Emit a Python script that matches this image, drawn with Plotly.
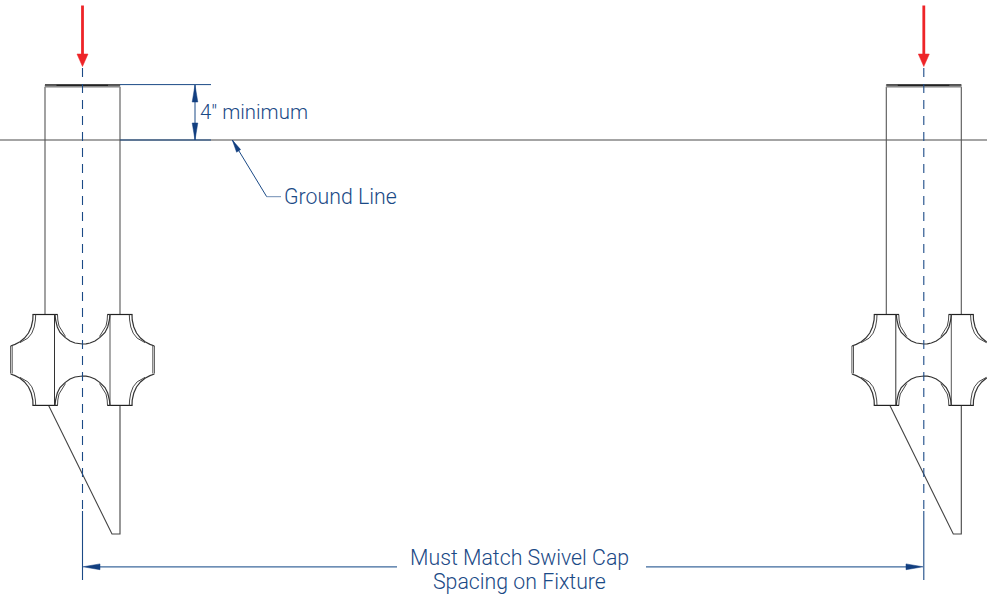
import plotly.graph_objects as go

LEFT_CENTER = 82.5
RIGHT_CENTER = 923.8
STAKE_SHIFT = RIGHT_CENTER - LEFT_CENTER
CROSS_MID_Y = 360.0

INK = "#333333"
BLUE = "#1b4a86"
RED = "#ee2428"

# stake outline, left stake, image pixels
shaft_left_x = [45, 45]
shaft_left_y = [87, 314.5]
shaft_right_x = [120, 120]
shaft_right_y = [87, 314.5]
cap_x = [45, 120, 120, 45, 45]
cap_y = [84.8, 84.8, 87.3, 87.3, 84.8]
cap_dark_x = [56.5, 108]
cap_dark_y = [85.3, 85.3]
spike_x = [48.5, 112, 120, 120]
spike_y = [405.3, 534, 534, 405.3]

# swivel cross
cross_edge_top_x = [32.5, 57.7]
cross_edge_top_y = [314.5, 314.5]
cross_edge2_top_x = [107.3, 132.5]
cross_edge2_top_y = [314.5, 314.5]
cross_edge_bot_x = [32.5, 57.7]
cross_edge_bot_y = [405.4, 405.4]
cross_edge2_bot_x = [107.3, 132.5]
cross_edge2_bot_y = [405.4, 405.4]
divider_a_x = [54.5, 54.5]
divider_b_x = [110, 110]
divider_y = [314.5, 405.4]
end_left_x = [10.6, 10.6]
end_left2_x = [12.2, 12.2]
end_right_x = [154.4, 154.4]
end_right2_x = [152.8, 152.8]
end_y = [346, 373.5]

# upper curves of the cross; lower ones are the same curves reflected
lobe_outer_x = [33, 32.8, 31.2, 28.5, 24.5, 20, 15, 10.6]
lobe_outer_y = [314.5, 320, 327, 333.0, 338.0, 341.8, 344.4, 346]
lobe_inner_x = [35.7, 35.4, 34.2, 31.8, 27.8, 23, 20]
lobe_inner_y = [314.5, 320, 327, 333.2, 338.2, 341.4, 342.6]
lobe2_outer_x = [132, 132.2, 133.8, 136.5, 140.5, 145, 150, 154.4]
lobe2_outer_y = [314.5, 320, 327, 333.0, 338.0, 341.8, 344.4, 346]
lobe2_inner_x = [129.3, 129.6, 130.8, 133.2, 137.2, 142, 145]
lobe2_inner_y = [314.5, 320, 327, 333.2, 338.2, 341.4, 342.6]
arc_x = [55, 55.6, 57.3, 60, 65, 70, 75, 79, 82.5, 86, 90, 95, 100, 105, 107.7, 109.4, 110]
arc_y = [314.5, 320, 327, 332.4, 337.4, 341, 343, 343.8, 344, 343.8, 343, 341, 337.4, 332.4, 327, 320, 314.5]
arc_tip_a_x = [57.5, 57.8, 59, 62, 65.5]
arc_tip_a_y = [314.5, 320, 326, 331.5, 336.5]
arc_tip_b_x = [107.5, 107.2, 106, 103, 99.5]
arc_tip_b_y = [314.5, 320, 326, 331.5, 336.5]

# centre lines and dimensions
center_dash_y = [68, 511]
center_solid_y = [511, 580]
red_shaft_y = [5.5, 55]
red_head_dx = [-5.5, 5.5, 0, -5.5]
red_head_y = [54, 54, 66.5, 54]
ground_x = [0, 987]
ground_y = [140, 140]
ext_top_x = [120, 211]
ext_top_y = [84.6, 84.6]
ext_bot_x = [120, 211]
ext_bot_y = [140, 140]
dim_v_x = [195, 195]
dim_v_y = [85, 140]
head_up_x = [195, 197.8, 192.2, 195]
head_up_y = [85, 102, 102, 85]
head_down_x = [195, 197.8, 192.2, 195]
head_down_y = [140, 123, 123, 140]
leader_x = [232.3, 266.7, 281]
leader_y = [140, 196.7, 196.7]
leader_head_x = [232.3, 240.6, 236.6, 232.3]
leader_head_y = [140, 149.6, 152.2, 140]
span_left_x = [100, 397]
span_right_x = [646, 906]
span_y = [566.8, 566.8]
span_head_l_x = [83, 100, 100, 83]
span_head_r_x = [923, 906, 906, 923]
span_head_y = [566.8, 563.9, 569.7, 566.8]

fig = go.Figure()


def line(xs, ys, color=INK, width=1.0, dash=None):
    fig.add_trace(go.Scatter(x=xs, y=ys, mode="lines", hoverinfo="skip", showlegend=False,
                             line=dict(color=color, width=width, dash=dash, shape="linear")))


def solid(xs, ys, color):
    fig.add_trace(go.Scatter(x=xs, y=ys, mode="lines", fill="toself", fillcolor=color,
                             hoverinfo="skip", showlegend=False, line=dict(color=color, width=0.5)))


def reflect(ys):
    return [2 * CROSS_MID_Y - y for y in ys]


def draw_stake(shift):
    def s(xs):
        return [x + shift for x in xs]

    line(s(shaft_left_x), shaft_left_y, color="#555555", width=1.1)
    line(s(shaft_right_x), shaft_right_y, color="#555555", width=1.1)
    solid(s(cap_x), cap_y, "#8a8a8a")
    line(s(cap_x[:2]), cap_y[:2], color="#2e2e2e", width=1.2)
    line(s(cap_dark_x), cap_dark_y, color="#222222", width=1.2)
    line(s(spike_x), spike_y, color="#444444", width=1.1)
    for ex, ey in [(cross_edge_top_x, cross_edge_top_y), (cross_edge2_top_x, cross_edge2_top_y),
                   (cross_edge_bot_x, cross_edge_bot_y), (cross_edge2_bot_x, cross_edge2_bot_y)]:
        line(s(ex), ey, color="#222222", width=1.2)
    line(s(divider_a_x), divider_y)
    line(s(divider_b_x), divider_y, color="#555555")
    for ex in (end_left_x, end_left2_x, end_right_x, end_right2_x):
        line(s(ex), end_y, color="#555555")
    for cx, cy, wd in [(lobe_outer_x, lobe_outer_y, 1.2), (lobe_inner_x, lobe_inner_y, 0.9),
                       (lobe2_outer_x, lobe2_outer_y, 1.2), (lobe2_inner_x, lobe2_inner_y, 0.9),
                       (arc_x, arc_y, 1.2), (arc_tip_a_x, arc_tip_a_y, 0.9), (arc_tip_b_x, arc_tip_b_y, 0.9)]:
        line(s(cx), cy, width=wd)
        line(s(cx), reflect(cy), width=wd)


line(ground_x, ground_y, color="#4a4a4a", width=1.1)
draw_stake(0)
draw_stake(STAKE_SHIFT)

for cx in (LEFT_CENTER, RIGHT_CENTER):
    line([cx, cx], center_dash_y, color=BLUE, width=1.1, dash="9px,7px")
    line([cx, cx], center_solid_y, color=BLUE, width=1.1)
    line([cx, cx], red_shaft_y, color=RED, width=2.8)
    solid([cx + d for d in red_head_dx], red_head_y, RED)

line(ext_top_x, ext_top_y, color=BLUE)
line(ext_bot_x, ext_bot_y, color=BLUE)
line(dim_v_x, dim_v_y, color=BLUE)
solid(head_up_x, head_up_y, "#123f80")
solid(head_down_x, head_down_y, "#123f80")
line(leader_x[:2], leader_y[:2], color=BLUE)
line(leader_x[1:], leader_y[1:], color="#6f8db3")
solid(leader_head_x, leader_head_y, "#123f80")
line(span_left_x, span_y, color="#3d689c", width=1.2)
line(span_right_x, span_y, color="#3d689c", width=1.2)
solid(span_head_l_x, span_head_y, "#123f80")
solid(span_head_r_x, span_head_y, "#123f80")

labels = ['4" minimum', "Ground Line", "Must Match Swivel Cap", "Spacing on Fixture"]
label_x = [200, 284, 519.5, 519.5]
label_y = [112, 196, 557, 581]
label_anchor = ["left", "left", "center", "center"]
label_size = [20.4, 21.3, 21.3, 21.3]
for txt, lx, ly, anc, sz in zip(labels, label_x, label_y, label_anchor, label_size):
    fig.add_annotation(x=lx, y=ly, text=txt, showarrow=False, xanchor=anc, yanchor="middle",
                       font=dict(family="Roboto Light, Roboto, sans-serif", size=sz, color=BLUE, weight=300),
                       borderpad=0, borderwidth=0)

fig.update_layout(
    width=987, height=597, margin=dict(l=0, r=0, t=0, b=0),
    paper_bgcolor="white", plot_bgcolor="white", showlegend=False,
    xaxis=dict(range=[0, 987], visible=False, fixedrange=True),
    yaxis=dict(range=[597, 0], visible=False, fixedrange=True),
)
fig.write_html("out.html", config={"displayModeBar": False},
               post_script="document.body.style.margin='0';document.documentElement.style.overflow='hidden';")
